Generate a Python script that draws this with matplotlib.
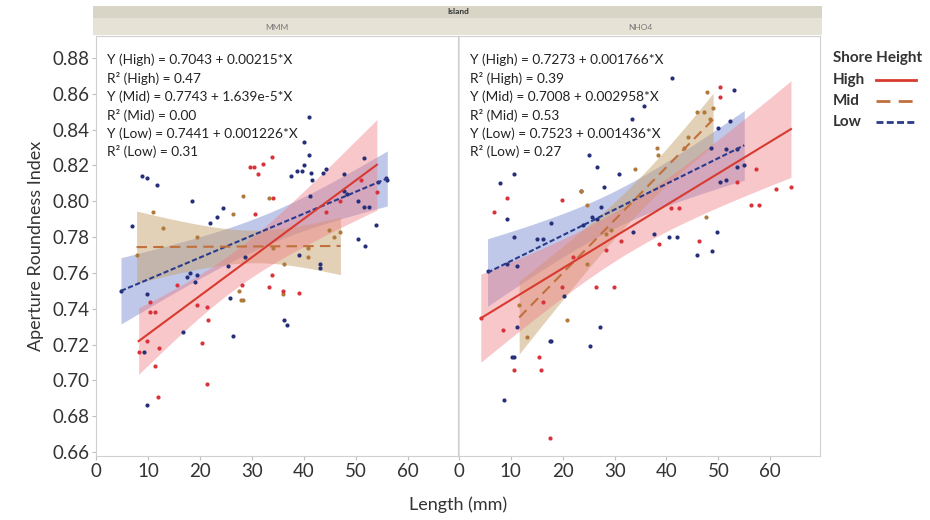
import numpy as np
import matplotlib
matplotlib.use("Agg")
import matplotlib.pyplot as plt
from matplotlib.lines import Line2D
from matplotlib.patches import Rectangle

plt.rcParams['font.family'] = ['Lato', 'DejaVu Sans']

# --- data ---
panels = ["MMM", "NHO4"]
groups = ["High", "Mid", "Low"]

# MMM panel
mmm_high_x = [8.2, 9.9, 10.3, 10.4, 11.3, 11.3, 12.0, 12.2, 15.6, 19.4, 20.4, 21.3, 21.4, 21.6, 28.1,
              29.7, 30.4, 30.6, 31.2, 32.2, 33.2, 33.9, 33.9, 34.1, 35.9, 39.0, 44.2, 47.0, 51.0, 54.0]
mmm_high_y = [0.716, 0.722, 0.744, 0.738, 0.738, 0.708, 0.691, 0.718, 0.753, 0.742, 0.721, 0.741, 0.698,
              0.734, 0.753, 0.819, 0.819, 0.793, 0.815, 0.821, 0.752, 0.825, 0.759, 0.802, 0.750, 0.749,
              0.794, 0.800, 0.812, 0.805]
mmm_mid_x = [7.8, 10.9, 12.9, 19.4, 26.4, 28.3, 33.2, 27.4, 27.8, 28.2, 35.9, 36.1, 34.0, 40.7, 40.7,
             44.8, 45.7, 47.0]
mmm_mid_y = [0.770, 0.794, 0.785, 0.780, 0.793, 0.803, 0.802, 0.750, 0.745, 0.745, 0.748, 0.765, 0.774,
             0.774, 0.769, 0.784, 0.780, 0.783]
mmm_low_x = [4.8, 6.9, 8.8, 9.9, 11.8, 9.8, 9.3, 9.9, 16.7, 17.5, 18.1, 18.5, 19.0, 19.4, 21.9, 23.3,
             24.4, 25.4, 25.8, 26.4, 28.7, 36.1, 36.8, 37.4, 39.0, 39.9, 40.9, 40.9, 41.2, 41.5, 43.1,
             43.1, 43.7, 44.2, 47.7, 47.7, 48.2, 50.3, 50.3, 51.5, 51.5, 51.8, 52.5, 53.9, 54.2, 55.8,
             56.0, 38.7, 39.6, 40.0, 41.3]
mmm_low_y = [0.750, 0.786, 0.814, 0.813, 0.809, 0.748, 0.716, 0.686, 0.727, 0.758, 0.760, 0.800, 0.755,
             0.759, 0.788, 0.791, 0.796, 0.764, 0.746, 0.725, 0.769, 0.734, 0.731, 0.814, 0.770, 0.833,
             0.847, 0.826, 0.803, 0.812, 0.765, 0.763, 0.816, 0.818, 0.815, 0.806, 0.804, 0.800, 0.779,
             0.824, 0.797, 0.775, 0.797, 0.787, 0.811, 0.813, 0.812, 0.817, 0.817, 0.820, 0.816]

# NHO4 panel
nho4_high_x = [4.2, 6.8, 8.4, 9.3, 10.7, 15.5, 15.9, 16.1, 17.5, 19.8, 19.8, 21.9, 26.5, 28.3, 29.8,
               31.2, 38.5, 40.9, 42.4, 46.2, 50.4, 50.4, 53.6, 56.3, 57.3, 57.8, 61.2, 64.0]
nho4_high_y = [0.735, 0.794, 0.728, 0.802, 0.706, 0.713, 0.706, 0.744, 0.668, 0.801, 0.752, 0.769,
               0.752, 0.773, 0.752, 0.778, 0.776, 0.796, 0.796, 0.778, 0.864, 0.858, 0.811, 0.798,
               0.818, 0.798, 0.807, 0.808]
nho4_mid_x = [11.6, 13.2, 20.9, 23.5, 24.6, 24.6, 28.3, 29.3, 34.0, 38.2, 38.4, 43.4, 44.1, 45.8, 47.3,
              47.6, 47.8, 48.3, 49.0]
nho4_mid_y = [0.742, 0.724, 0.734, 0.806, 0.798, 0.765, 0.782, 0.784, 0.818, 0.830, 0.826, 0.830, 0.836,
              0.850, 0.850, 0.791, 0.861, 0.846, 0.852]
nho4_low_x = [5.5, 7.9, 9.3, 9.3, 10.7, 10.7, 11.1, 11.1, 10.3, 10.7, 8.7, 15.1, 16.1, 17.7, 17.5, 17.7,
              20.3, 23.5, 24.0, 25.1, 25.3, 25.6, 26.6, 26.7, 27.2, 27.4, 27.9, 30.9, 33.3, 33.5, 35.6,
              37.5, 40.4, 41.0, 42.0, 45.8, 48.5, 48.7, 49.7, 50.0, 50.4, 51.5, 52.3, 53.0, 53.6, 53.6,
              51.5, 55.0]
nho4_low_y = [0.761, 0.810, 0.790, 0.765, 0.815, 0.780, 0.764, 0.730, 0.713, 0.713, 0.689, 0.779, 0.779,
              0.788, 0.722, 0.722, 0.747, 0.806, 0.787, 0.826, 0.719, 0.791, 0.790, 0.819, 0.730, 0.797,
              0.808, 0.815, 0.846, 0.783, 0.853, 0.782, 0.780, 0.869, 0.780, 0.770, 0.830, 0.772, 0.783,
              0.841, 0.811, 0.829, 0.845, 0.862, 0.829, 0.819, 0.812, 0.820]

# fitted coefficients printed on the chart (intercept, slope, R2)
mmm_fit = {"High": (0.7043, 0.00215, "0.47", "0.00215"),
           "Mid": (0.7743, 1.639e-5, "0.00", "1.639e-5"),
           "Low": (0.7441, 0.001226, "0.31", "0.001226")}
nho4_fit = {"High": (0.7273, 0.001766, "0.39", "0.001766"),
            "Mid": (0.7008, 0.002958, "0.53", "0.002958"),
            "Low": (0.7523, 0.001436, "0.27", "0.001436")}

data = {
    "MMM": {"High": (mmm_high_x, mmm_high_y), "Mid": (mmm_mid_x, mmm_mid_y), "Low": (mmm_low_x, mmm_low_y)},
    "NHO4": {"High": (nho4_high_x, nho4_high_y), "Mid": (nho4_mid_x, nho4_mid_y), "Low": (nho4_low_x, nho4_low_y)},
}
fits = {"MMM": mmm_fit, "NHO4": nho4_fit}

pt_col = {"High": "#d8333a", "Mid": "#b07a3c", "Low": "#26307a"}
ln_col = {"High": "#d93a30", "Mid": "#c0703c", "Low": "#2a3a8c"}
band_col = {"High": "#f07a82", "Mid": "#c8a470", "Low": "#7585d0"}
band_alpha = {"High": 0.42, "Mid": 0.5, "Low": 0.45}
dashes = {"High": None, "Mid": (5, 3), "Low": (2.5, 1.2)}


def conf_band(x, y, b0, b1, xs):
    x = np.asarray(x); y = np.asarray(y)
    n = len(x)
    res = y - (b0 + b1 * x)
    s = np.sqrt(np.sum(res ** 2) / (n - 2))
    sxx = np.sum((x - x.mean()) ** 2)
    hw = 2.03 * s * np.sqrt(1.0 / n + (xs - x.mean()) ** 2 / sxx)
    yf = b0 + b1 * xs
    return yf - hw, yf + hw


W, H = 930, 520
fig = plt.figure(figsize=(W / 100, H / 100), dpi=100)

ax_l = fig.add_axes([96 / W, 1 - 456 / H, 362 / W, 420 / H])
ax_r = fig.add_axes([459 / W, 1 - 456 / H, 361 / W, 420 / H], sharey=ax_l)
axes = {"MMM": ax_l, "NHO4": ax_r}

for p in panels:
    ax = axes[p]
    for g in ["Low", "Mid", "High"]:
        x, y = data[p][g]
        b0, b1, r2, sl = fits[p][g]
        xs = np.linspace(min(x), max(x), 100)
        lo, hi = conf_band(x, y, b0, b1, xs)
        ax.fill_between(xs, lo, hi, color=band_col[g], alpha=band_alpha[g], lw=0)
    for g in ["Low", "Mid", "High"]:
        x, y = data[p][g]
        ax.scatter(x, y, s=9, color=pt_col[g], zorder=3, lw=0)
    for g in ["Low", "Mid", "High"]:
        x, y = data[p][g]
        b0, b1, r2, sl = fits[p][g]
        xs = np.linspace(min(x), max(x), 2)
        l, = ax.plot(xs, b0 + b1 * xs, color=ln_col[g], lw=1.5, zorder=4)
        if dashes[g]:
            l.set_dashes(dashes[g])

    lines = []
    for g in groups:
        b0, b1, r2, sl = fits[p][g]
        lines.append("Y (%s) = %.4f + %s*X" % (g, b0, sl))
        lines.append("R² (%s) = %s" % (g, r2))
    for i, t in enumerate(lines):
        ax.text(0.03, 0.943 - i * 0.0437, t, transform=ax.transAxes, fontsize=9.8,
                color="#222222", va="center", ha="left")

    ax.set_xlim(0, 69.6)
    ax.set_xticks([0, 10, 20, 30, 40, 50, 60])
    for s in ax.spines.values():
        s.set_color("#d0d0d0")
        s.set_linewidth(0.8)
    ax.tick_params(axis="both", colors="#c0c0c0", labelcolor="#333333", labelsize=13.5, length=3,
                   width=0.8, pad=2)

ax_l.set_ylim(0.6578, 0.8923)
ax_l.set_yticks(np.arange(0.66, 0.881, 0.02))
ax_l.set_yticklabels(["%.2f" % v for v in np.arange(0.66, 0.881, 0.02)])
ax_r.tick_params(axis="y", left=False, labelleft=False)
ax_r.spines["left"].set_color("#e0e0e0")

ax_l.set_ylabel("Aperture Roundness Index", fontsize=13, color="#333333", labelpad=6)
fig.text(458 / W, 1 - 505 / H, "Length (mm)", ha="center", va="center", fontsize=13, color="#333333")

# strips
fig.patches.append(Rectangle((93 / W, 1 - 18 / H), 729 / W, 12 / H, transform=fig.transFigure,
                             facecolor="#d9d5c6", edgecolor="none"))
fig.patches.append(Rectangle((93 / W, 1 - 35 / H), 729 / W, 17 / H, transform=fig.transFigure,
                             facecolor="#e6e3d6", edgecolor="none"))
fig.text(458 / W, 1 - 12 / H, "Island", ha="center", va="center", fontsize=6, fontweight="bold",
         color="#333333")
fig.text(277 / W, 1 - 27 / H, "MMM", ha="center", va="center", fontsize=6, color="#777777")
fig.text(640 / W, 1 - 27 / H, "NHO4", ha="center", va="center", fontsize=6, color="#777777")

# legend, drawn by hand so labels stay left aligned
fig.text(833 / W, 1 - 58 / H, "Shore Height", ha="left", va="center", fontsize=11, fontweight="bold",
         color="#333333")
for i, g in enumerate(groups):
    yy = 1 - (80 + i * 21) / H
    fig.text(833 / W, yy, g, ha="left", va="center", fontsize=11, fontweight="bold", color="#333333")
    h = Line2D([876 / W, 916 / W], [yy, yy], transform=fig.transFigure, color=ln_col[g], lw=2)
    if dashes[g]:
        h.set_dashes(dashes[g])
    fig.lines.append(h)

fig.savefig("out.png", dpi=100)
